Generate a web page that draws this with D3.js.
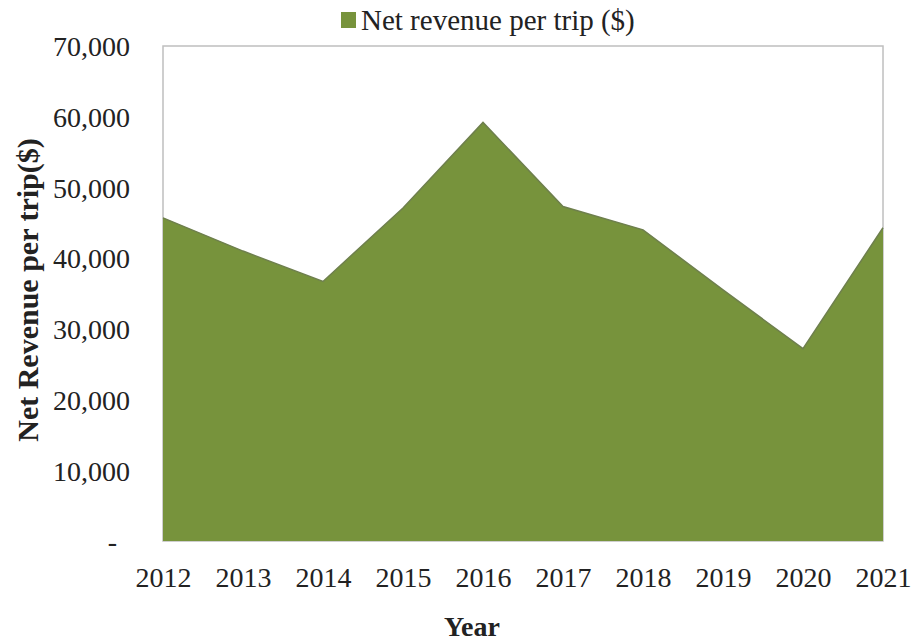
<!DOCTYPE html>
<html><head><meta charset="utf-8">
<script src="https://cdn.jsdelivr.net/npm/d3@7"></script>
<style>body{margin:0;background:#fff}svg{display:block}</style>
</head><body>
<svg id="c" width="913" height="642"></svg>
<script>
const years = ["2012","2013","2014","2015","2016","2017","2018","2019","2020","2021"];
const revenue = [45700, 41000, 36700, 47100, 59200, 47300, 44000, 35500, 27200, 44300];
const yTicks = [0, 10000, 20000, 30000, 40000, 50000, 60000, 70000];
const seriesName = "Net revenue per trip ($)";

const svg = d3.select("#c");
const L = 163, R = 883, T = 46, B = 541;
const font = "'Liberation Serif','Times New Roman',serif";
const green = "#77933c";

const x = d3.scalePoint().domain(years).range([L, R]).padding(0);
const y = d3.scaleLinear().domain([0, 70000]).range([B, T]);

// frame
svg.append("rect").attr("x", L).attr("y", T).attr("width", R - L).attr("height", B - T)
  .attr("fill", "#fff").attr("stroke", "#bfbfbf").attr("stroke-width", 1.5);

const data = years.map((yr, i) => ({yr, v: revenue[i]}));
const area = d3.area().x(d => x(d.yr)).y0(y(0)).y1(d => y(d.v));
svg.append("path").datum(data).attr("d", area).attr("fill", green);
const line = d3.line().x(d => x(d.yr)).y(d => y(d.v));
svg.append("path").datum(data).attr("d", line).attr("fill", "none")
  .attr("stroke", "#6e7f4d").attr("stroke-width", 1.5);

// y axis
const yAxis = d3.axisLeft(y).tickValues(yTicks).tickSize(0).tickPadding(0)
  .tickFormat(d => d === 0 ? "-" : d3.format(",")(d));
const ga = svg.append("g").attr("transform", `translate(${L - 33},0)`).call(yAxis);
ga.select(".domain").remove();
ga.selectAll("text").attr("font-family", font).attr("font-size", 28).attr("fill", "#222")
  .attr("dy", "0.35em")
  .attr("x", d => d === 0 ? -13 : 0);

// x axis
const xAxis = d3.axisBottom(x).tickSize(0).tickPadding(0);
const gx = svg.append("g").attr("transform", `translate(0,${B + 36})`).call(xAxis);
gx.select(".domain").remove();
gx.selectAll("text").attr("font-family", font).attr("font-size", 28).attr("fill", "#222")
  .attr("dy", "0.35em").attr("y", 0);

// axis titles
svg.append("text").attr("x", 472).attr("y", 636).attr("text-anchor", "middle")
  .attr("font-family", font).attr("font-weight", "bold").attr("font-size", 28).attr("fill", "#222")
  .text("Year");
svg.append("text").attr("transform", "translate(38,290) rotate(-90)").attr("text-anchor", "middle")
  .attr("font-family", font).attr("font-weight", "bold").attr("font-size", 30).attr("fill", "#222")
  .text("Net Revenue per trip($)");

// legend
const lg = svg.append("g");
lg.append("rect").attr("x", 341).attr("y", 12).attr("width", 15).attr("height", 16).attr("fill", green);
lg.append("text").attr("x", 361).attr("y", 30).attr("font-family", font).attr("font-size", 29)
  .attr("fill", "#222").text(seriesName);
</script>
</body></html>
